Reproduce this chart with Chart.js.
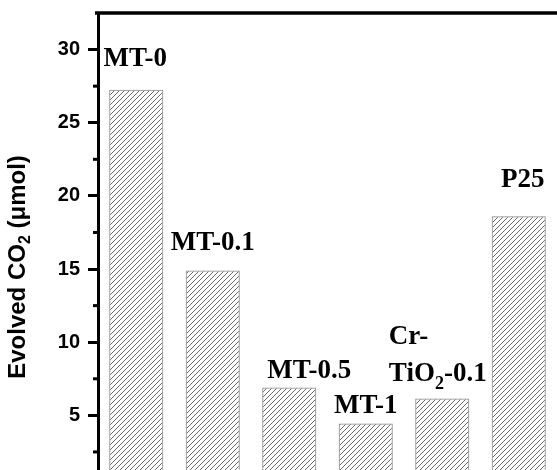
<!DOCTYPE html>
<html>
<head>
<meta charset="utf-8">
<script src="https://cdn.jsdelivr.net/npm/chart.js@4.4.0/dist/chart.umd.min.js"></script>
<style>
html, body { margin: 0; padding: 0; background: #fff; overflow: hidden; }
#wrap { width: 557px; height: 470px; overflow: hidden; }
#c { display: block; }
</style>
</head>
<body>
<div id="wrap"><canvas id="c" width="557" height="500"></canvas></div>
<script>
// 数据
const categories = ['MT-0', 'MT-0.1', 'MT-0.5', 'MT-1', 'Cr-\nTiO_2-0.1', 'P25'];
const evolvedCO2 = [27.25, 14.9, 6.9, 4.45, 6.15, 18.6];
const yTicks = [5, 10, 15, 20, 25, 30];
const yMinorTicks = [2.5, 7.5, 12.5, 17.5, 22.5, 27.5];
const yTitle = 'Evolved CO_2 (μmol)';

// 标签位置微调 [dx, 与柱顶的距离]
const labelOffsets = [[-1, 24], [0, 21], [20, 10], [0, 10], [-4.5, 18], [4, 29]];

// 斜线填充
function hatch() {
    const s = 5;
    const p = document.createElement('canvas');
    p.width = s; p.height = s;
    const g = p.getContext('2d');
    g.strokeStyle = '#6a6a6a';
    g.lineWidth = 1;
    g.beginPath();
    g.moveTo(0, s); g.lineTo(s, 0);
    g.moveTo(-1, 1); g.lineTo(1, -1);
    g.moveTo(s - 1, s + 1); g.lineTo(s + 1, s - 1);
    g.stroke();
    return g.createPattern(p, 'repeat');
}

// "_2" 表示下标
function parts(line) {
    const out = [];
    let buf = '';
    for (let i = 0; i < line.length; i++) {
        if (line[i] === '_') {
            if (buf) out.push({ t: buf, sub: false });
            buf = '';
            out.push({ t: line[i + 1], sub: true });
            i++;
        } else {
            buf += line[i];
        }
    }
    if (buf) out.push({ t: buf, sub: false });
    return out;
}

function lineWidth(ctx, segs, font, subFont) {
    let w = 0;
    segs.forEach(s => { ctx.font = s.sub ? subFont : font; w += ctx.measureText(s.t).width; });
    return w;
}

function drawLine(ctx, segs, x, y, font, subFont, subDy) {
    segs.forEach(s => {
        ctx.font = s.sub ? subFont : font;
        ctx.fillText(s.t, x, s.sub ? y + subDy : y);
        x += ctx.measureText(s.t).width;
    });
}

const labelFont = 'bold 27px "Liberation Serif", "Times New Roman", serif';
const labelSub = 'bold 18px "Liberation Serif", "Times New Roman", serif';

const extras = {
    id: 'extras',
    afterDraw(chart) {
        const ctx = chart.ctx;
        const area = chart.chartArea;
        const y = chart.scales.y;
        ctx.save();
        ctx.fillStyle = '#000';
        ctx.strokeStyle = '#000';

        // 上边框
        ctx.lineWidth = 3.5;
        ctx.beginPath();
        ctx.moveTo(area.left - 3, area.top);
        ctx.lineTo(chart.width, area.top);
        ctx.stroke();

        // 次刻度
        ctx.lineWidth = 3;
        yMinorTicks.forEach(v => {
            const py = y.getPixelForValue(v);
            ctx.beginPath();
            ctx.moveTo(area.left - 5, py);
            ctx.lineTo(area.left, py);
            ctx.stroke();
        });

        // 柱顶标签
        ctx.textAlign = 'left';
        ctx.textBaseline = 'alphabetic';
        const meta = chart.getDatasetMeta(0);
        meta.data.forEach((bar, i) => {
            const lines = categories[i].split('\n').map(parts);
            const widths = lines.map(l => lineWidth(ctx, l, labelFont, labelSub));
            const maxW = Math.max(...widths);
            const [dx, gap] = labelOffsets[i];
            const x0 = bar.x + dx - maxW / 2;
            let base = bar.y - gap - (lines.length - 1) * 37;
            lines.forEach(l => {
                drawLine(ctx, l, x0, base, labelFont, labelSub, 8);
                base += 37;
            });
        });

        // 纵轴标题
        const tSegs = parts(yTitle);
        const tFont = 'bold 24px "Liberation Sans", Arial, sans-serif';
        const tSub = 'bold 16px "Liberation Sans", Arial, sans-serif';
        const tw = lineWidth(ctx, tSegs, tFont, tSub);
        ctx.translate(25, 267);
        ctx.rotate(-Math.PI / 2);
        drawLine(ctx, tSegs, -tw / 2, 0, tFont, tSub, 5);
        ctx.restore();
    }
};

const ctx = document.getElementById('c').getContext('2d');
new Chart(ctx, {
    type: 'bar',
    data: {
        labels: categories,
        datasets: [{
            data: evolvedCO2,
            backgroundColor: hatch(),
            borderColor: '#8a8a8a',
            borderWidth: 1,
            barPercentage: 0.707,
            categoryPercentage: 1
        }]
    },
    options: {
        responsive: false,
        animation: false,
        layout: { padding: { top: 13, right: 0, bottom: 11.5, left: 0 } },
        plugins: { legend: { display: false }, tooltip: { enabled: false } },
        scales: {
            x: { display: false },
            y: {
                min: 0,
                max: 32.5,
                afterBuildTicks: s => { s.ticks = yTicks.map(v => ({ value: v })); },
                afterFit: s => { s.width = 98; s.paddingTop = 0; s.paddingBottom = 0; },
                grid: { drawOnChartArea: false, tickLength: 10, tickWidth: 3, tickColor: '#000' },
                border: { display: true, color: '#000', width: 3 },
                ticks: {
                    color: '#000',
                    padding: 8,
                    font: { family: '"Liberation Sans", Arial, sans-serif', size: 20, weight: 'bold' }
                }
            }
        }
    },
    plugins: [extras]
});
</script>
</body>
</html>
